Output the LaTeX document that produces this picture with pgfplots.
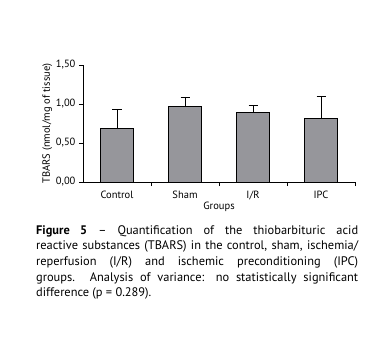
\documentclass[border=0pt]{standalone}
\usepackage{fontspec}
\setmainfont{PT Sans}
\usepackage{pgfplots}
\pgfplotsset{compat=1.18}
\definecolor{bargray}{RGB}{150,150,155}
\begin{document}
\begin{tikzpicture}
\begin{axis}[
  scale only axis, width=272pt, height=117pt,
  xmin=-0.5, xmax=3.5, ymin=0, ymax=1.5,
  axis lines*=left,
  axis line style={line width=0.9pt},
  tick align=outside,
  major tick length=4pt, minor tick length=4pt,
  tick style={black, line width=0.8pt},
  xtick={0,1,2,3}, xticklabels={Control,Sham,I/R,IPC},
  minor xtick={0.5,1.5,2.5,3.5},
  every major x tick/.append style={draw=none},
  ytick={0,0.5,1,1.5},
  yticklabel style={/pgf/number format/.cd, fixed, fixed zerofill, precision=2, use comma},
  /pgf/number format/assume math mode=true,
  ticklabel style={font=\fontsize{10.5}{12}\selectfont},
  xticklabel style={yshift=-1pt},
  xlabel={Groups}, ylabel={TBARS (nmol/mg of tissue)},
  label style={font=\fontsize{10.5}{12}\selectfont},
  xlabel style={yshift=4pt},
  ylabel style={yshift=-3pt},
  clip=false,
]
\addplot[ybar, bar width=33pt, fill=bargray, draw=black, line width=0.8pt,
  error bars/.cd, y dir=plus, y explicit,
  error bar style={line width=0.8pt, black},
  error mark options={rotate=90, mark size=4.5pt, line width=0.8pt, black}]
  coordinates {(0,0.69) +- (0,0.24) (1,0.97) +- (0,0.12) (2,0.89) +- (0,0.09) (3,0.82) +- (0,0.28)};
\path (rel axis cs:0,0) ++(-83pt,-169pt) rectangle ++(366pt,351pt);
\node[anchor=north west, inner sep=0pt, text width=322pt, align=justify,
  font=\fontsize{12.4}{15.7}\selectfont, xshift=-47pt, yshift=-43pt] at (rel axis cs:0,0)
  {\textbf{Figure 5} – Quantification of the thiobarbituric acid\linebreak
   reactive substances (TBARS) in the control, sham, ischemia/\linebreak
   reperfusion (I/R) and ischemic preconditioning (IPC)\linebreak
   groups. Analysis of variance: no statistically significant\linebreak
   difference (p = 0.289).};
\end{axis}
\end{tikzpicture}
\end{document}
